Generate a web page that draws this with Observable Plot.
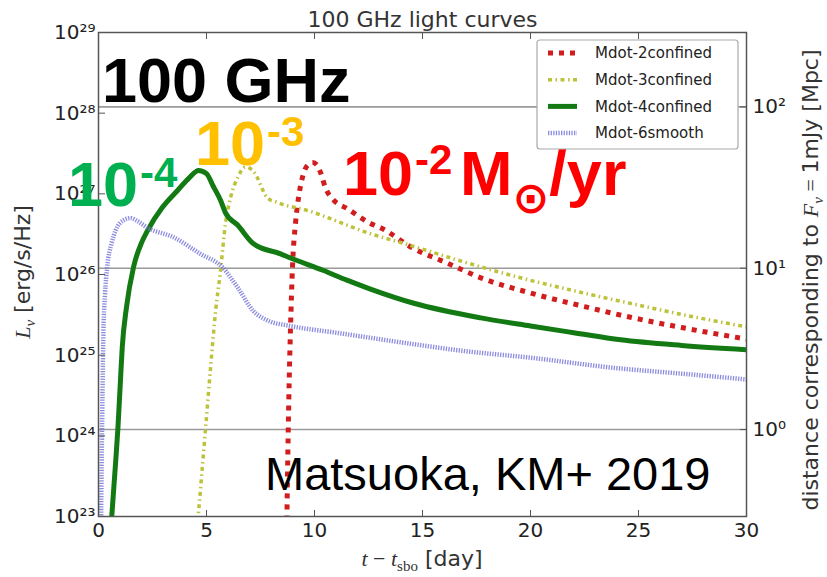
<!DOCTYPE html>
<html><head><meta charset="utf-8">
<script src="https://cdn.jsdelivr.net/npm/d3@7"></script>
<script src="https://cdn.jsdelivr.net/npm/@observablehq/plot@0.6"></script>
<style>body{margin:0;background:#fff}</style>
</head><body><div id="chart"></div>
<script>
// ---- data ----
const seriesNames = ["Mdot-2confined", "Mdot-3confined", "Mdot-4confined", "Mdot-6smooth"];

const tRed = [8.72, 8.78, 8.83, 8.89, 8.98, 9.12, 9.26, 9.49, 9.7, 9.91, 10.1, 10.3, 10.5, 10.9, 11.5, 12.59, 13.06, 14.58, 16.16, 17.7, 20.0, 22.5, 24.63, 27.0, 30.0];
const LRed = [8.9e22, 1.0e24, 5.0e24, 2.2e25, 1.23e26, 4.3e26, 8.9e26, 1.78e27, 2.3e27, 2.45e27, 2.3e27, 1.78e27, 1.2e27, 8.3e26, 6.6e26, 4.3e26, 3.8e26, 2.1e26, 1.38e26, 9.1e25, 5.9e25, 4.0e25, 2.95e25, 2.2e25, 1.58e25];

const tYellow = [4.6, 4.95, 5.19, 5.42, 5.65, 5.88, 6.11, 6.44, 6.8, 7.1, 7.36, 7.6, 7.82, 8.29, 9.68, 12.6, 14.2, 17.0, 19.54, 22.0, 24.6, 27.0, 30.0];
const LYellow = [8.9e22, 1.17e24, 7.1e24, 3.5e25, 1.12e26, 4.3e26, 8.9e26, 1.58e27, 2.14e27, 2.0e27, 1.58e27, 1.12e27, 8.9e26, 7.8e26, 6.2e26, 3.2e26, 2.4e26, 1.41e26, 9.1e25, 6.3e25, 4.4e25, 3.2e25, 2.24e25];

const tGreen = [0.6, 0.8, 0.9, 1.0, 1.1, 1.3, 1.62, 2.0, 2.27, 2.96, 3.66, 4.2, 4.63, 5.0, 5.3, 5.65, 5.88, 6.44, 7.18, 8.43, 8.89, 10.42, 11.5, 12.59, 14.6, 17.7, 20.0, 22.0, 24.17, 27.0, 30.0];
const LGreen = [8.9e22, 5.0e23, 1.26e24, 4.0e24, 1.26e25, 4.0e25, 1.23e26, 2.5e26, 3.5e26, 6.8e26, 1.1e27, 1.58e27, 1.95e27, 1.78e27, 1.26e27, 8.3e26, 5.8e26, 4.1e26, 2.4e26, 1.8e26, 1.6e26, 1.12e26, 8.5e25, 6.6e25, 4.4e25, 2.9e25, 2.3e25, 1.9e25, 1.55e25, 1.32e25, 1.17e25];

const tBlue = [0.12, 0.17, 0.23, 0.3, 0.4, 0.6, 0.79, 1.16, 1.48, 1.8, 2.27, 3.47, 4.72, 5.74, 6.44, 7.18, 7.82, 8.89, 11.0, 14.5, 17.0, 20.0, 24.0, 27.0, 30.0];
const LBlue = [8.9e22, 1.6e24, 2.0e25, 5.6e25, 1.23e26, 2.4e26, 3.5e26, 4.7e26, 5.0e26, 4.6e26, 3.8e26, 2.9e26, 1.8e26, 1.23e26, 6.9e25, 3.5e25, 2.7e25, 2.3e25, 1.9e25, 1.38e25, 1.12e25, 9.3e24, 6.9e24, 5.9e24, 5.0e24];

const xTicks = [0, 5, 10, 15, 20, 25, 30];
const yTicks = [1e23, 1e24, 1e25, 1e26, 1e27, 1e28, 1e29];
const distTicks = [1, 10, 100]; // Mpc

// ---- helpers ----
const MPC = 3.0857e24, MJY = 1e-26;
const Lfor = d => 4 * Math.PI * (d * MPC) ** 2 * MJY;
const supDigits = {"0":"⁰","1":"¹","2":"²","3":"³","4":"⁴","5":"⁵","6":"⁶","7":"⁷","8":"⁸","9":"⁹","-":"⁻"};
const sup = n => String(n).split("").map(c => supDigits[c]).join("");

const styles = [
  {stroke: "#d11d1d", strokeWidth: 5, strokeDasharray: "5,6"},
  {stroke: "#bcc23a", strokeWidth: 3.5, strokeDasharray: "4,3.5,1.5,3.5"},
  {stroke: "#137a13", strokeWidth: 5, strokeDasharray: null},
  {stroke: "#7878d8", strokeWidth: 4.5, strokeDasharray: "1.3,1.3"}
];
const tArr = [tRed, tYellow, tGreen, tBlue];
const LArr = [LRed, LYellow, LGreen, LBlue];
const rows = [];
seriesNames.forEach((s, k) => tArr[k].forEach((t, i) => rows.push({series: s, t, L: LArr[k][i]})));

const lineMarks = seriesNames.map((s, k) => Plot.line(rows.filter(r => r.series === s), {
  x: "t", y: "L", curve: "monotone-x", clip: true,
  stroke: styles[k].stroke, strokeWidth: styles[k].strokeWidth,
  strokeDasharray: styles[k].strokeDasharray, strokeLinecap: "butt", strokeLinejoin: "round",
  strokeOpacity: k === 3 ? 0.85 : 1
}));

const plot = Plot.plot({
  width: 827, height: 577,
  marginLeft: 98, marginRight: 81, marginTop: 32, marginBottom: 61,
  x: {domain: [0, 30]},
  y: {type: "log", domain: [1e23, 1e29]},
  style: {fontFamily: "DejaVu Sans", background: "#fff", color: "#222"},
  marks: [
    Plot.ruleY(distTicks.map(Lfor), {stroke: "#9a9a9a", strokeWidth: 1.6}),
    ...lineMarks,
    Plot.frame({stroke: "#555", strokeWidth: 1.5}),
    Plot.axisX({ticks: xTicks, tickSize: -6, tickPadding: 12, fontSize: 20, label: null, stroke: "#555"}),
    Plot.axisX({anchor: "top", ticks: xTicks, tickSize: -6, tickFormat: () => "", label: null, stroke: "#555"}),
    Plot.axisY({ticks: yTicks, tickSize: -7, tickPadding: 10, fontSize: 20, label: null, stroke: "#555",
      tickFormat: v => "10" + sup(Math.round(Math.log10(v)))}),
    Plot.axisY({anchor: "right", ticks: distTicks.map(Lfor), tickSize: -7, tickPadding: 13, fontSize: 20, label: null, stroke: "#555",
      tickFormat: v => "10" + sup(Math.round(Math.log10(Math.sqrt(v / Lfor(1)))))}),
    Plot.text(["100 GHz light curves"], {frameAnchor: "top", dy: -6, fontSize: 22, fill: "#333", textAnchor: "middle", lineAnchor: "bottom"})
  ]
});
document.getElementById("chart").appendChild(plot);

// ---- labels, annotations, legend ----
const svg = d3.select(plot);
const g = svg.append("g").attr("text-anchor", "start");
const serif = "'Liberation Serif', 'DejaVu Serif', serif";
const sans = "'DejaVu Sans', sans-serif";
const arial = "'Liberation Sans', Arial, sans-serif";

// x label
const xl = g.append("text").attr("x", 422).attr("y", 566).attr("text-anchor", "middle")
  .attr("font-family", sans).attr("font-size", 22).attr("fill", "#333");
xl.append("tspan").attr("font-family", serif).attr("font-style", "italic").text("t");
xl.append("tspan").attr("font-family", serif).text(" − ");
xl.append("tspan").attr("font-family", serif).attr("font-style", "italic").text("t");
xl.append("tspan").attr("font-family", serif).attr("font-size", 15).attr("dy", 5).text("sbo");
xl.append("tspan").attr("dy", -5).text(" [day]");

// left y label
const yl = g.append("text").attr("transform", "translate(30,272) rotate(-90)").attr("text-anchor", "middle")
  .attr("font-family", sans).attr("font-size", 22).attr("fill", "#333");
yl.append("tspan").attr("font-family", serif).attr("font-style", "italic").text("L");
yl.append("tspan").attr("font-family", serif).attr("font-style", "italic").attr("font-size", 15).attr("dy", 5).text("ν");
yl.append("tspan").attr("dy", -5).text(" [erg/s/Hz]");

// right label
const rl = g.append("text").attr("transform", "translate(818,280) rotate(-90)").attr("text-anchor", "middle")
  .attr("font-family", sans).attr("font-size", 22).attr("fill", "#333");
rl.append("tspan").text("distance corresponding to ");
rl.append("tspan").attr("font-family", serif).attr("font-style", "italic").text("F");
rl.append("tspan").attr("font-family", serif).attr("font-style", "italic").attr("font-size", 15).attr("dy", 5).text("ν");
rl.append("tspan").attr("dy", -5).attr("font-family", serif).text(" = ");
rl.append("tspan").text("1mJy [Mpc]");

// big annotations
g.append("text").attr("x", 102).attr("y", 102).attr("text-anchor", "start").attr("font-family", arial).attr("font-weight", "bold")
  .attr("font-size", 63).attr("fill", "#000").text("100 GHz");

function powerLabel(x, y, color, exp, supDy) {
  const t = g.append("text").attr("x", x).attr("y", y).attr("text-anchor", "start").attr("font-family", arial).attr("font-weight", "bold")
    .attr("font-size", 63).attr("fill", color);
  t.append("tspan").text("10");
  t.append("tspan").attr("font-size", 42).attr("dy", supDy).attr("dx", 2).text(exp);
  return t;
}
powerLabel(68, 206, "#00b050", "-4", -19);
powerLabel(195, 165, "#ffc000", "-3", -19);
const red = powerLabel(343, 195, "#ff0000", "-2", -21);
red.append("tspan").attr("x", 460).attr("dy", 21).text("M");
red.append("tspan").attr("font-family", "'DejaVu Sans', sans-serif").attr("font-size", 44).attr("dy", 18).text("⊙");
red.append("tspan").attr("dy", -18).text("/yr");

g.append("text").attr("x", 265).attr("y", 490).attr("text-anchor", "start").attr("font-family", arial)
  .attr("font-size", 47).attr("fill", "#000").text("Matsuoka, KM+ 2019");

// legend
const lg = g.append("g");
lg.append("rect").attr("x", 537).attr("y", 40).attr("width", 201).attr("height", 109).attr("rx", 3)
  .attr("fill", "#fff").attr("stroke", "#aaa").attr("stroke-width", 1.2);
seriesNames.forEach((s, k) => {
  const yy = 53 + k * 26.7;
  lg.append("line").attr("x1", 548).attr("x2", 577).attr("y1", yy).attr("y2", yy)
    .attr("stroke", styles[k].stroke).attr("stroke-width", styles[k].strokeWidth)
    .attr("stroke-dasharray", styles[k].strokeDasharray).attr("stroke-opacity", k === 3 ? 0.85 : 1);
  lg.append("text").attr("x", 595).attr("y", yy).attr("dy", "0.35em").attr("text-anchor", "start").attr("font-family", sans)
    .attr("font-size", 15).attr("fill", "#222").text(s);
});
</script>
</body></html>
